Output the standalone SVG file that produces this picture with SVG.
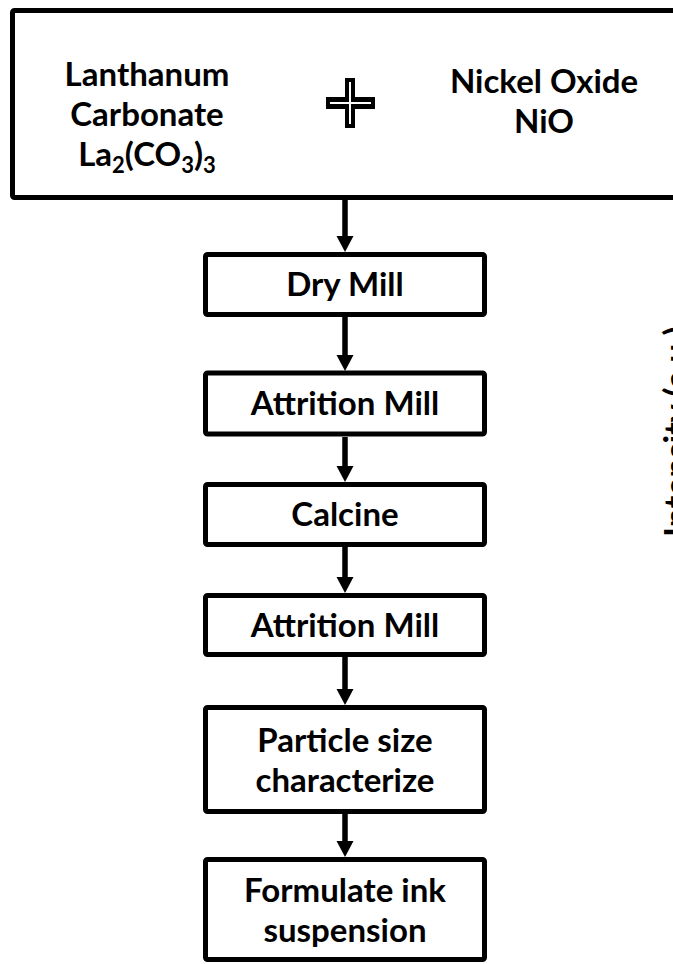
<svg xmlns="http://www.w3.org/2000/svg" width="673" height="964" viewBox="0 0 673 964">
<style>
.box{fill:#fff;stroke:#000;stroke-width:5;stroke-linejoin:round}
.t{font-family:Lato,"Liberation Sans",sans-serif;font-weight:bold;font-size:33px;fill:#000;text-anchor:middle}
.shaft{stroke:#000;stroke-width:5.5;fill:none}
</style>
<defs>
<path id="head" d="M-8.5,-16 L8.5,-16 L0,0 Z" fill="#000"/>
</defs>
<rect width="673" height="964" fill="#fff"/>
<g id="inputs">
<rect class="box" x="12.5" y="10.5" width="690" height="187" rx="2"/>
<text class="t" x="147" y="86">Lanthanum</text>
<text class="t" x="147" y="126">Carbonate</text>
<text class="t" x="147" y="166">La<tspan font-size="22" dy="7">2</tspan><tspan dy="-7">(CO</tspan><tspan font-size="22" dy="7">3</tspan><tspan dy="-7">)</tspan><tspan font-size="22" dy="7">3</tspan></text>
<text class="t" x="544" y="93">Nickel Oxide</text>
<text class="t" x="544" y="133">NiO</text>
<g id="plus">
<path d="M345,78 H355 V97 H375 V109 H355 V128 H345 V109 H326 V97 H345 Z" fill="#000"/>
<path d="M350,82 V124 M330,103 H371" stroke="#fff" stroke-width="2"/>
</g>
</g>
<g id="dry-mill">
<rect class="box" x="205.5" y="254.5" width="279" height="60" rx="2"/>
<text class="t" x="345" y="296">Dry Mill</text>
</g>
<g id="attrition-mill-1">
<rect class="box" x="205.5" y="373" width="279" height="61" rx="2"/>
<text class="t" x="345" y="415">Attrition Mill</text>
</g>
<g id="calcine">
<rect class="box" x="205.5" y="484.5" width="279" height="60" rx="2"/>
<text class="t" x="345" y="526">Calcine</text>
</g>
<g id="attrition-mill-2">
<rect class="box" x="205.5" y="595.5" width="279" height="59" rx="2"/>
<text class="t" x="345" y="637">Attrition Mill</text>
</g>
<g id="particle-size">
<rect class="box" x="205.5" y="707.5" width="279" height="104" rx="2"/>
<text class="t" x="345" y="752">Particle size</text>
<text class="t" x="345" y="792">characterize</text>
</g>
<g id="formulate-ink">
<rect class="box" x="205.5" y="859.5" width="279" height="100" rx="2"/>
<text class="t" x="345" y="902">Formulate ink</text>
<text class="t" x="345" y="942">suspension</text>
</g>
<g id="axis-label">
<text class="t" style="text-anchor:start;font-size:34px" transform="translate(689,537) rotate(-90)">Intensity (a.u.)</text>
</g>
<g id="connectors">
<path class="shaft" d="M345,199 V238 M345,317 V356 M345,437 V468 M345,547 V579 M345,657 V691 M345,814 V843"/>
<use href="#head" x="345" y="252"/>
<use href="#head" x="345" y="371"/>
<use href="#head" x="345" y="482"/>
<use href="#head" x="345" y="593"/>
<use href="#head" x="345" y="705"/>
<use href="#head" x="345" y="857"/>
</g>
</svg>
